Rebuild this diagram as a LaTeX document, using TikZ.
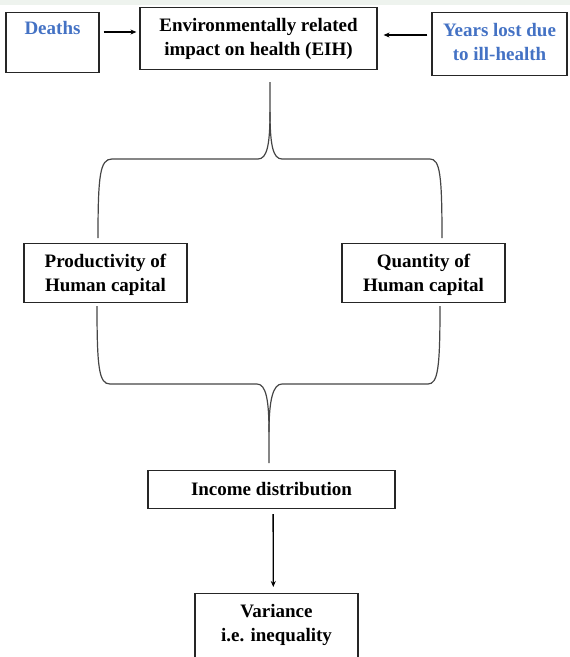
\documentclass[tikz,border=0pt]{standalone}
\usepackage{fontspec}
\setmainfont{Liberation Serif}
\usepackage{tikz}
\usetikzlibrary{arrows.meta, positioning, calc}
\usepackage{xcolor}
\definecolor{wordblue}{HTML}{4472C4}
\definecolor{bandgray}{HTML}{EEF3EE}
\definecolor{bracegray}{HTML}{454545}

\tikzset{
  box/.style={draw=black!85, line width=1.2pt, inner sep=0pt, align=center,
    font=\fontsize{19}{24}\selectfont\bfseries, anchor=north},
  bluebox/.style={box, text=wordblue},
  arr/.style={-{Stealth[length=6pt,width=5pt]}, line width=1.3pt, black},
  brace/.style={bracegray, line width=1.2pt}
}

\begin{document}
\begin{tikzpicture}[x=1pt,y=-1pt]
			% --- Canvas ---
			\useasboundingbox (0,0) rectangle (570,657);
			\clip (0,0) rectangle (570,657);
			\fill[bandgray] (0,0) rectangle (570,4.5);
			
			% --- Top row ---
			\node[bluebox, minimum width=93pt, text height=22pt, text depth=38pt] (deaths) at (52.5,12) {Deaths};
			\node[box, minimum width=237pt, text height=48pt, text depth=14pt] (eih) at (258.5,7) {Environmentally related\\impact on health (EIH)};
			\node[bluebox, minimum width=135pt, text height=48pt, text depth=15pt] (years) at (499.5,12) {Years lost due\\to ill-health};
			
			% --- Middle row ---
			\node[box, minimum width=163pt, text height=48pt, text depth=11pt] (prod) at (105.5,243) {Productivity of\\Human capital};
			\node[box, minimum width=163pt, text height=48pt, text depth=11pt] (quant) at (423.5,243) {Quantity of\\Human capital};
			
			% --- Bottom ---
			\node[box, minimum width=247pt, text height=25pt, text depth=13pt] (income) at (271.5,470) {Income distribution};
			\node[box, minimum width=163pt, text height=48pt, text depth=50pt] (var) at (276.5,593) {Variance\\i.e. inequality};
			
			% --- Arrows into EIH ---
			\draw[arr] ([shift={(4,25)}]deaths.east |- eih.north) -- ([shift={(-3,25)}]eih.north west);
			\draw[arr] ([shift={(-4,28)}]years.west |- eih.north) -- ([shift={(6,28)}]eih.north east);
			
			% --- Upper brace ---
			\coordinate (topTip) at (270,82);
			\coordinate (topL) at (98,238);
			\coordinate (topR) at (442,238);
			\draw[brace] (topL) .. controls (98,175) and (100,159) .. (112,159) -- (258,159)
			  .. controls (267,159) and (270,145) .. (270,112) -- (topTip);
			\draw[brace] (topR) .. controls (442,175) and (440,159) .. (430,159) -- (282,159)
			  .. controls (273,159) and (270,145) .. (270,112);
			
			% --- Lower brace ---
			\coordinate (botTip) at (269,463);
			\coordinate (botL) at (97,306);
			\coordinate (botR) at (440,306);
			\draw[brace] (botL) .. controls (97,368) and (99,384) .. (110,384) -- (257,384)
			  .. controls (266,384) and (269,400) .. (269,432) -- (botTip);
			\draw[brace] (botR) .. controls (440,368) and (438,384) .. (428,384) -- (282,384)
			  .. controls (273,384) and (269,400) .. (269,432);
			
			% --- Income to variance ---
			\draw[arr] ([shift={(1.6,5)}]income.south) -- ([shift={(-3.2,-6)}]var.north);
			
\end{tikzpicture}
\end{document}
